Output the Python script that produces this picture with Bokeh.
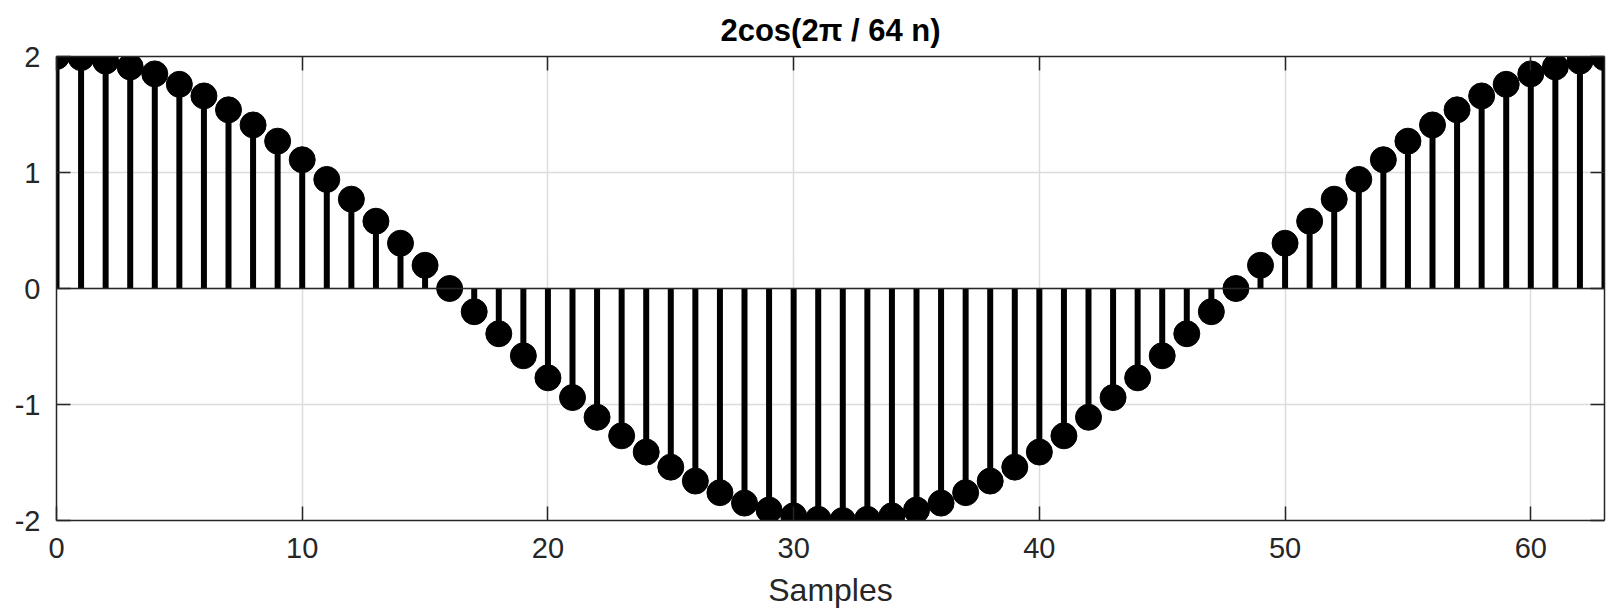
from bokeh.plotting import figure
from bokeh.models import LinearAxis, FixedTicker, Span, ColumnDataSource, Range1d, CustomLabelingPolicy
from bokeh.embed import file_html
from bokeh.resources import INLINE

samples = list(range(64))
values = [2.00, 1.99, 1.96, 1.91, 1.85, 1.76, 1.66, 1.54, 1.41, 1.27, 1.11, 0.94, 0.77, 0.58, 0.39, 0.20,
          0.00, -0.20, -0.39, -0.58, -0.77, -0.94, -1.11, -1.27, -1.41, -1.54, -1.66, -1.76, -1.85, -1.91, -1.96, -1.99,
          -2.00, -1.99, -1.96, -1.91, -1.85, -1.76, -1.66, -1.54, -1.41, -1.27, -1.11, -0.94, -0.77, -0.58, -0.39, -0.20,
          0.00, 0.20, 0.39, 0.58, 0.77, 0.94, 1.11, 1.27, 1.41, 1.54, 1.66, 1.76, 1.85, 1.91, 1.96, 1.99]
x_ticks = [0, 10, 20, 30, 40, 50, 60]
y_ticks = [-2, -1, 0, 1, 2]
y_tick_labels = ["-2", "-1", "0", "1", "2"]
title_text = "2cos(2\u03c0 / 64 n)"
x_label = "Samples"

FONT = "Liberation Sans"
AXC = "#262626"

src = ColumnDataSource(dict(x=samples, y=values, base=[0] * len(samples)))

p = figure(frame_width=1548, frame_height=464, output_backend="svg", toolbar_location=None,
           x_range=Range1d(0, 63), y_range=Range1d(-2, 2),
           min_border_left=56, min_border_top=56, min_border_right=6, min_border_bottom=4,
           x_axis_location=None, y_axis_location=None)
p.outline_line_color = None
p.background_fill_color = "white"

p.title.text = title_text
p.title.align = "center"
p.title.vertical_align = "top"
p.title.text_font = FONT
p.title.text_font_size = "31px"
p.title.text_font_style = "bold"
p.title.text_color = "black"
p.title.standoff = 6

def mk_axis(ticks, labels=True, label=None, overrides=None):
    ax = LinearAxis(ticker=FixedTicker(ticks=ticks))
    ax.major_tick_in = 14
    ax.major_tick_out = 0
    ax.minor_tick_in = 0
    ax.minor_tick_out = 0
    ax.axis_line_color = AXC
    ax.axis_line_width = 1.5
    ax.major_tick_line_color = AXC
    ax.major_tick_line_width = 1.5
    ax.major_label_text_font = FONT
    ax.major_label_text_color = AXC
    if labels:
        ax.major_label_text_font_size = "29px"
        ax.major_label_standoff = 16
        if overrides:
            ax.major_label_overrides = overrides
    else:
        ax.major_label_text_font_size = "1px"
        ax.major_label_standoff = 0
        ax.major_label_policy = CustomLabelingPolicy(code="for (const i of indices) if (i < 0) yield i")
    if label:
        ax.axis_label = label
        ax.axis_label_text_font = FONT
        ax.axis_label_text_font_size = "32px"
        ax.axis_label_text_font_style = "normal"
        ax.axis_label_text_color = AXC
        ax.axis_label_standoff = 11
    return ax

xb = mk_axis(x_ticks, True, x_label)
xb.major_label_standoff = 17
p.add_layout(xb, "below")
p.add_layout(mk_axis(y_ticks, True, None, {t: s for t, s in zip(y_ticks, y_tick_labels)}), "left")
p.add_layout(mk_axis(x_ticks, False), "above")
p.add_layout(mk_axis(y_ticks, False), "right")

p.xgrid.ticker = FixedTicker(ticks=x_ticks)
p.ygrid.ticker = FixedTicker(ticks=y_ticks)
p.grid.grid_line_color = "#dcdcdc"
p.grid.grid_line_width = 1.5

p.add_layout(Span(location=0, dimension="width", line_color=AXC, line_width=1.5))

p.segment(x0="x", y0="base", x1="x", y1="y", source=src, line_color="black", line_width=6)
p.scatter(x="x", y="y", source=src, size=26, marker="circle", fill_color="black", line_color="black")

open("out.html", "w").write(file_html(p, INLINE))
